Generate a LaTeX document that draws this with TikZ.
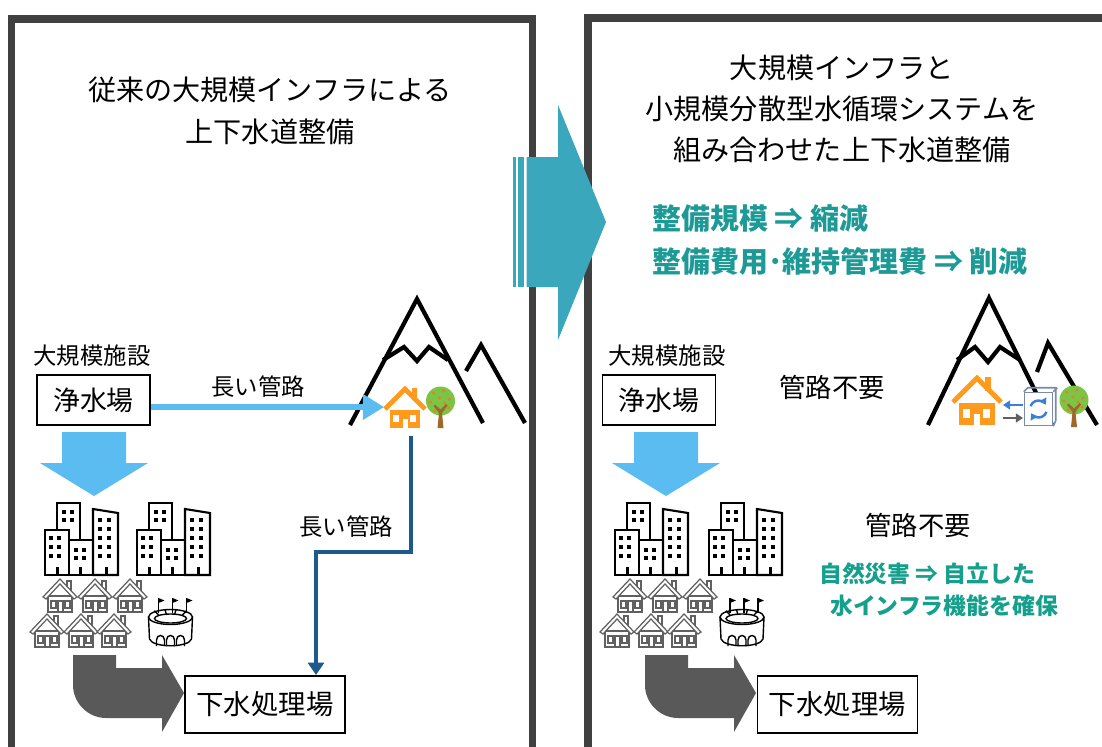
\documentclass[tikz,border=0pt]{standalone}
\usepackage{fontspec}
\setmainfont{Noto Sans CJK JP}
\usetikzlibrary{arrows.meta}

\definecolor{framegray}{HTML}{404040}
\definecolor{pipeblue}{HTML}{5BBCF2}
\definecolor{sewerblue}{HTML}{1C5A8E}
\definecolor{shiftblue}{HTML}{3AA7BC}
\definecolor{headteal}{HTML}{1E9A96}
\definecolor{greenteal}{HTML}{14A08C}
\definecolor{homeorange}{HTML}{FF9A1E}
\definecolor{leafgreen}{HTML}{7CC444}
\definecolor{fruitorange}{HTML}{F2792A}
\definecolor{barkbrown}{HTML}{A0672A}
\definecolor{flowgray}{HTML}{595959}
\definecolor{linegray}{HTML}{606060}
\definecolor{unitgray}{HTML}{7A8AA8}
\definecolor{unitblue}{HTML}{3A7FD8}

\begin{document}
\begin{tikzpicture}[x=0.02cm, y=-0.02cm,
    panel/.style={draw=framegray, line width=4pt},
    plant/.style={draw=black, line width=1.1pt, fill=white, inner sep=0pt,
        minimum width=2.26cm, minimum height=1cm, font=\fontsize{15.3}{18}\selectfont},
    sewage/.style={plant, minimum width=3.2cm, minimum height=1.14cm,
        font=\fontsize{15.6}{18}\selectfont},
    heading/.style={align=center, font=\fontsize{16}{24}\selectfont},
    note/.style={font=\fontsize{13.3}{16}\selectfont},
    nopipe/.style={font=\fontsize{15}{18}\selectfont},
    effect/.style={anchor=west, align=left, text=headteal,
        font=\bfseries\fontsize{16.5}{25}\selectfont},
    ridge/.style={line width=2.4pt},
    pipe/.style={pipeblue, line width=3pt, -{Triangle[length=12pt,width=14pt]}},
    drain/.style={sewerblue, line width=2.4pt, -{Triangle[length=7pt,width=9pt]}},
    swap/.style={line width=1.4pt, -{Triangle[length=4pt,width=5pt]}},
    pics/towers/.style={code={
        \begin{scope}[line width=1.2pt]
        \filldraw[fill=white] (12,0) rectangle (35,72);
        \filldraw[fill=white] (0,27) rectangle (24,72);
        \filldraw[fill=white] (24,37) rectangle (48,72);
        \filldraw[fill=white] (48,6) -- (73,10) -- (73,72) -- (48,72) -- cycle;
        \end{scope}
        \foreach \wx/\wy in {16.5/7,24.5/7,16.5/15,24.5/15,
            4/33,12/33,4/42,12/42,4/51,12/51,
            29/45,37/45,29/53,37/53,
            53/15,62/15,53/24,62/24,53/33,62/33,53/42,62/42,53/51,62/51}
            \fill (\wx,\wy) rectangle ++(4,4);
        \foreach \dx in {10.5,34,59.5}
            \fill (\dx,64) rectangle ++(3,8);
    }},
    pics/cottage/.style={code={
        \begin{scope}[draw=linegray, line width=0.7pt]
        \filldraw[fill=white] (-12,-16) rectangle (12,0);
        \draw (7,-24) -- (7,-31) -- (11,-31) -- (11,-20);
        \filldraw[fill=white] (-17,-15) -- (0,-33) -- (17,-15) -- (14,-13)
            -- (0,-28) -- (-14,-13) -- cycle;
        \draw (-9,-11) rectangle (-4,-4);
        \draw (-2,-11) rectangle (3,0);
        \draw (5,-11) rectangle (10,-4);
        \end{scope}
    }},
    pics/arena/.style={code={
        \begin{scope}[line width=0.8pt]
        \filldraw[fill=white] (-22,0) -- (-21,22) .. controls (-18,31) and (18,31)
            .. (21,22) -- (22,0);
        \filldraw[fill=white] (0,0) ellipse (22 and 7.5);
        \draw (0,1.5) ellipse (16 and 4.5);
        \foreach \sx in {-12,-4,4,12}
            \draw (\sx*1.35,{-7.5+abs(\sx)*0.1}) -- (\sx,-2);
        \foreach \ax in {-10,0,10}
            \draw (\ax-4,29) -- (\ax-4,23) .. controls (\ax-4,17) and (\ax+4,17)
                .. (\ax+4,23) -- (\ax+4,29);
        \foreach \fx in {-12,2,16}{
            \draw[line width=0.6pt] (\fx,-4) -- (\fx,-19);
            \fill (\fx,-19) -- (\fx+6,-16.5) -- (\fx,-14) -- cycle;
        }
        \end{scope}
    }},
    pics/home/.style={code={
        \fill[homeorange] (-15,-18) rectangle (15,0);
        \fill[homeorange] (7,-40) rectangle (12,-28);
        \draw[homeorange, line width=2.8pt] (-20,-19) -- (0,-39) -- (20,-19);
        \fill[white] (-12,-13) rectangle (-6,-6);
        \fill[white] (5,-13) rectangle (11,-6);
        \fill[white] (-2.5,-9) rectangle (2.5,0);
    }},
    pics/fruittree/.style={code={
        \fill[leafgreen] (0,-27) circle (14.5);
        \fill[barkbrown] (-3,0) -- (-1.5,-15) -- (-7,-22) -- (-5.5,-23.5) -- (0,-18.5)
            -- (5.5,-24) -- (7,-22.5) -- (1.5,-15) -- (3,0) -- cycle;
        \foreach \fx/\fy in {-7/-35,3/-37,9/-29,-10/-26,-1/-30,8/-20,-6/-17,4/-25}
            \fill[fruitorange] (\fx,\fy) circle (1.7);
    }},
    pics/supplyflow/.style={code={
        \fill[pipeblue] (-32,0) -- (32,0) -- (32,31) -- (54,31) -- (0,64)
            -- (-54,31) -- (-32,31) -- cycle;
    }},
    pics/returnflow/.style={code={
        \fill[flowgray] (0,0) -- (43,0) -- (43,13) -- (89,13) -- (89,0) -- (111,38)
            -- (89,77) -- (89,63) -- (33,63) .. controls (15,63) and (0,48) .. (0,30)
            -- cycle;
    }}
]
\clip (0,0) rectangle (1102,747);

% the two panels
\draw[panel] (11.5,760) -- (11.5,19) -- (532.5,19) -- (532.5,760);
\draw[panel] (588,760) -- (588,18) -- (1120,18);

% shift arrow between the panels
\fill[shiftblue] (526.5,157) -- (558,157) -- (558,105) -- (606,222) -- (558,340)
    -- (558,287) -- (526.5,287) -- cycle;
\fill[shiftblue] (512.7,157) rectangle (515.7,287);
\fill[shiftblue] (518.3,157) rectangle (524,287);

\node[heading] (titleL) at (270,111) {従来の大規模インフラによる\\上下水道整備};
\node[heading, font=\fontsize{16}{23.3}\selectfont] (titleR) at (842,109)
    {大規模インフラと\\小規模分散型水循環システムを\\組み合わせた上下水道整備};
\node[effect] (effects) at (646,240) {整備規模 ⇒ 縮減\\整備費用･維持管理費 ⇒ 削減};

% left: conventional
\node[note] (bigL) at (92,356) {大規模施設};
\node[plant] (jsL) at (93.5,400) {浄水場};
\node[sewage] (gsL) at (265,704.5) {下水処理場};
\pic at (94,432) {supplyflow};
\pic at (45,503) {towers};
\pic at (137,503) {towers};
\foreach \hx in {60,95,130} \pic at (\hx,612) {cottage};
\foreach \hx in {47,81,114} \pic at (\hx,647) {cottage};
\pic at (170.5,617) {arena};
\pic at (73,655) {returnflow};

\draw[ridge] (350,425) -- (417,299) -- (483,423);
\draw[ridge] (383,360) -- (404,347) -- (417,361) -- (429,347) -- (448,360);
\draw[ridge] (466,371) -- (481,345) -- (525,423);
\pic at (405,428) {home};
\pic at (440.5,428) {fruittree};
\coordinate (homeL) at (384,407);
\coordinate (drainL) at (411,436);
\coordinate (bendL) at (316,552);

\draw[pipe] (jsL.east |- homeL) -- (homeL);
\node[note] (pipeA) at (258,387) {長い管路};
\draw[drain] (drainL) |- (bendL) -- (bendL |- gsL.north);
\node[note] (pipeB) at (346,527) {長い管路};

% right: combined with small decentralised systems
\node[note] (bigR) at (667,356) {大規模施設};
\node[plant] (jsR) at (659,400) {浄水場};
\node[sewage] (gsR) at (837.5,704.5) {下水処理場};
\pic at (666,432) {supplyflow};
\pic at (615,503) {towers};
\pic at (709,503) {towers};
\foreach \hx in {630,665,700} \pic at (\hx,612) {cottage};
\foreach \hx in {617,651,684} \pic at (\hx,647) {cottage};
\pic at (742,617) {arena};
\pic at (645,655) {returnflow};

\draw[ridge] (928,425) -- (989,298) -- (1052,425);
\draw[ridge] (957,360) -- (975,347) -- (988,362) -- (1000,347) -- (1020,360);
\draw[ridge] (1037,372) -- (1048,343) -- (1097,425);
\pic[scale=1.2] at (977,425) {home};
\pic at (1074,427) {fruittree};
\node[draw=unitgray, line width=0.9pt, fill=white, minimum width=0.56cm,
    minimum height=0.66cm, inner sep=0pt] (unit) at (1038.5,409) {};
\draw[unitgray, line width=0.9pt] (unit.north west) -- ++(4,-4) -- ++(28,0) -- ++(0,33)
    -- (unit.south east);
\draw[unitgray, line width=0.9pt] (unit.north east) -- ++(4,-4);
\draw[unitblue, line width=1.4pt, -{Triangle[length=3.5pt,width=4.5pt]}]
    ([shift={(200:8.5)}]unit.center) arc (200:330:8.5);
\draw[unitblue, line width=1.4pt, -{Triangle[length=3.5pt,width=4.5pt]}]
    ([shift={(20:8.5)}]unit.center) arc (20:150:8.5);
\coordinate (homeRa) at (1003,405);
\coordinate (homeRb) at (1003,418);
\coordinate (unitRa) at (1023,405);
\coordinate (unitRb) at (1023,418);
\draw[swap, unitblue] (unitRa) -- (homeRa);
\draw[swap, linegray] (homeRb) -- (unitRb);

\node[nopipe] (noPipeA) at (832,387) {管路不要};
\node[nopipe] (noPipeB) at (918,525) {管路不要};
\node[anchor=west, align=left, text=greenteal,
    font=\bfseries\fontsize{13}{18}\selectfont] (resilience) at (813,590)
    {自然災害 ⇒ 自立した\\\hspace{0.22cm}水インフラ機能を確保};
\end{tikzpicture}
\end{document}
